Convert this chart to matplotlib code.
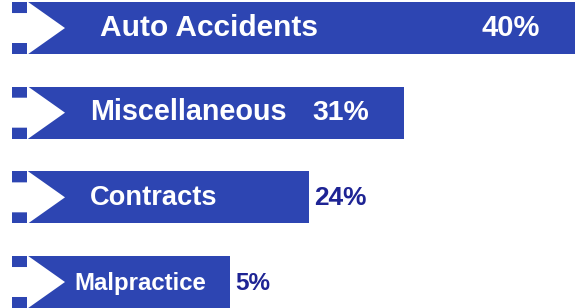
import numpy as np
import matplotlib
matplotlib.use('Agg')
import matplotlib.pyplot as plt
from matplotlib.patches import Polygon

plt.rcParams['font.family'] = ['Liberation Sans', 'DejaVu Sans']

categories = ['Auto Accidents', 'Miscellaneous', 'Contracts', 'Malpractice']
shares = [40, 31, 24, 5]
# bars in the original are not to scale: drawn lengths (px)
bar_lengths = [563, 392, 297, 218]
name_x = [100, 90, 90, 74]
name_size = [21.5, 20.7, 19.6, 17.3]
pct_size = [21, 20.4, 18.9, 17.5]

bar_color = '#2d45b2'
navy = '#1e2494'

fig = plt.figure(figsize=(5.79, 3.08), dpi=100)
ax = fig.add_axes([0, 0, 1, 1])
ax.set_xlim(0, 579)
ax.set_ylim(3.307, -0.331)
ax.axis('off')

y = np.arange(len(categories))
height = 0.614
left = 12
ax.barh(y, bar_lengths, left=left, height=height, color=bar_color)

sq = 0.13
for i, (cat, val, ln, nx) in enumerate(zip(categories, shares, bar_lengths, name_x)):
    top = i - height / 2
    bot = i + height / 2
    # white arrow notch on the left end of each bar
    arrow = Polygon([(left - 1, top + sq), (27, top + sq), (27, top - 0.01),
                     (65, i), (27, bot + 0.01), (27, bot - sq), (left - 1, bot - sq)],
                    closed=True, facecolor='white', edgecolor='none', zorder=3)
    ax.add_patch(arrow)
    ax.text(nx, i + 0.09, cat, color='white', fontsize=name_size[i], fontweight='bold',
            va='baseline', ha='left', zorder=4)
    end = left + ln
    if ln > 350:
        ax.text(end - 35, i + 0.09, '%d%%' % val, color='white', fontsize=pct_size[i],
                fontweight='bold', va='baseline', ha='right', zorder=4)
    else:
        ax.text(end + 5, i + 0.09, '%d%%' % val, color=navy, fontsize=pct_size[i],
                fontweight='bold', va='baseline', ha='left', zorder=4)

fig.savefig('out.png', dpi=100)
